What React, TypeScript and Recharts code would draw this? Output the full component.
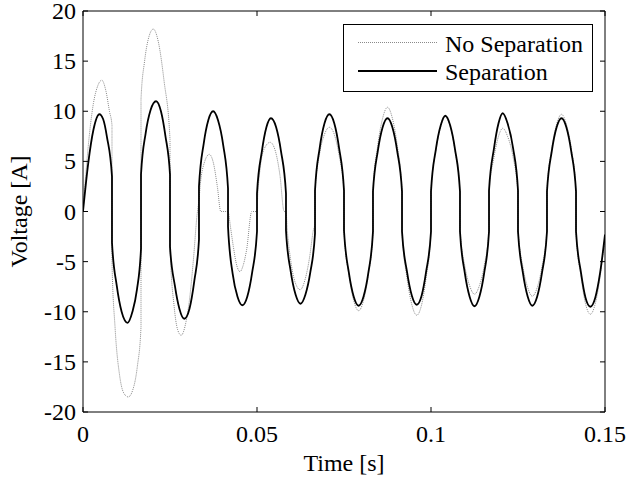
import React from 'react';
import { LineChart, Line, XAxis, YAxis, Legend, Label } from 'recharts';

const FONT = '"Liberation Serif", "Times New Roman", Times, serif';

const xTicks = [0, 0.05, 0.1, 0.15];
const yTicks = [-20, -15, -10, -5, 0, 5, 10, 15, 20];
const seriesNames = ['No Separation', 'Separation'];

// [time (s), value]
const noSeparation: [number, number][] = [
  [0, 0], [0.0015, 6.5], [0.003, 10.8], [0.0042, 12.5], [0.0054, 13.1], [0.0066, 12.0], [0.0076, 10.0], [0.00833, 8.6],
  [0.00833, -5.0], [0.0092, -11.5], [0.0105, -16.3], [0.0117, -18.1], [0.013, -18.5], [0.0143, -17.8], [0.0156, -15.5], [0.01667, -11.5],
  [0.01667, 11.2], [0.0177, 15.0], [0.019, 17.5], [0.0202, 18.2], [0.0216, 17.0], [0.0233, 13.0], [0.025, 7.2],
  [0.025, -3.5], [0.0262, -9.5], [0.0272, -11.8], [0.0282, -12.35], [0.0296, -11.0], [0.0308, -8.2], [0.0318, -4.5], [0.0327, -0.6], [0.03333, 1.2],
  [0.0338, 3.0], [0.0348, 4.8], [0.0363, 5.7], [0.0375, 4.8], [0.0386, 2.5], [0.0396, 0], [0.04167, 0],
  [0.0424, -1.6], [0.0432, -3.5], [0.0442, -5.4], [0.0451, -6.0], [0.046, -5.4], [0.047, -3.85], [0.0485, 0], [0.05, 0],
  [0.0502, 1.5], [0.0509, 4.3], [0.052, 6.2], [0.0538, 6.9], [0.0553, 6.0], [0.0566, 3.6], [0.0578, 0], [0.05833, 0],
  [0.0587, -1.8], [0.0597, -4.9], [0.0609, -7.0], [0.0624, -7.8], [0.0638, -6.8], [0.0651, -4.6], [0.0662, -1.85], [0.06667, -1.2],
  [0.06667, 2.0], [0.068, 5.8], [0.0694, 7.7], [0.0708, 8.4], [0.0722, 7.7], [0.0736, 5.6], [0.075, 2.1],
  [0.075, -2.0], [0.0764, -6.3], [0.0778, -8.9], [0.0792, -9.9], [0.0806, -8.9], [0.082, -6.3], [0.08333, -2.0],
  [0.08333, 2.1], [0.0847, 6.6], [0.0861, 9.3], [0.0875, 10.4], [0.0889, 9.3], [0.0903, 6.6], [0.09167, 2.1],
  [0.09167, -2.1], [0.0931, -6.6], [0.0945, -9.3], [0.0959, -10.35], [0.0973, -9.3], [0.0986, -6.6], [0.1, -2.1],
  [0.1, 2.0], [0.1014, 6.1], [0.1028, 8.5], [0.1041, 9.45], [0.1055, 8.5], [0.1069, 6.1], [0.10833, 2.0],
  [0.10833, -1.8], [0.1097, -5.4], [0.1111, -7.4], [0.1125, -8.25], [0.1139, -7.4], [0.1153, -5.4], [0.11667, -1.8],
  [0.11667, 1.8], [0.1181, 5.4], [0.1194, 7.5], [0.1206, 8.3], [0.122, 7.5], [0.1236, 5.4], [0.125, 1.8],
  [0.125, -1.8], [0.1264, -5.5], [0.1278, -7.6], [0.1291, -8.45], [0.1305, -7.6], [0.1319, -5.5], [0.13333, -1.8],
  [0.13333, 2.0], [0.1347, 6.3], [0.1361, 8.7], [0.1375, 9.7], [0.1389, 8.7], [0.1403, 6.3], [0.14167, 2.0],
  [0.14167, -2.1], [0.1431, -6.5], [0.1444, -9.2], [0.1458, -10.25], [0.1472, -9.2], [0.1486, -6.5], [0.15, -2.4],
];

const separation: [number, number][] = [
  [0, 0], [0.0015, 4.8], [0.003, 8.15], [0.0047, 9.7], [0.0058, 9.2], [0.0069, 7.4], [0.00833, 3.5],
  [0.00833, -3.1], [0.0097, -7.4], [0.0111, -10.0], [0.0128, -11.1], [0.0142, -10.0], [0.0155, -7.8], [0.01667, -3.7],
  [0.01667, 3.7], [0.018, 7.8], [0.0194, 10.1], [0.021, 11.0], [0.0224, 10.0], [0.0237, 7.5], [0.025, 3.7],
  [0.025, -3.5], [0.0264, -7.4], [0.0277, -9.7], [0.0291, -10.7], [0.0306, -9.7], [0.032, -6.9], [0.03333, -2.8],
  [0.03333, 2.5], [0.0347, 6.8], [0.036, 9.1], [0.0374, 10.0], [0.0388, 9.1], [0.0403, 6.6], [0.04167, 2.3],
  [0.04167, -1.5], [0.043, -6.2], [0.0444, -8.5], [0.0458, -9.35], [0.0472, -8.5], [0.0486, -6.1], [0.05, -2.0],
  [0.05, 1.8], [0.0514, 6.0], [0.0527, 8.4], [0.054, 9.3], [0.0555, 8.4], [0.0569, 6.0], [0.05833, 1.8],
  [0.05833, -1.9], [0.0597, -6.0], [0.0611, -8.3], [0.0625, -9.2], [0.0639, -8.3], [0.0653, -6.1], [0.06667, -2.2],
  [0.06667, 2.1], [0.068, 6.3], [0.0694, 8.8], [0.0708, 9.7], [0.0722, 8.8], [0.0736, 6.3], [0.075, 2.1],
  [0.075, -1.9], [0.0764, -6.1], [0.0778, -8.5], [0.0792, -9.4], [0.0806, -8.5], [0.082, -6.1], [0.08333, -2.0],
  [0.08333, 2.0], [0.0847, 6.0], [0.0861, 8.4], [0.0875, 9.3], [0.0889, 8.4], [0.0903, 6.0], [0.09167, 2.0],
  [0.09167, -2.0], [0.0931, -6.0], [0.0945, -8.4], [0.0959, -9.3], [0.0973, -8.4], [0.0986, -6.0], [0.1, -2.0],
  [0.1, 2.0], [0.1014, 6.2], [0.1028, 8.6], [0.1041, 9.55], [0.1055, 8.6], [0.1069, 6.2], [0.10833, 2.0],
  [0.10833, -2.0], [0.1097, -6.1], [0.1111, -8.5], [0.1125, -9.45], [0.1139, -8.5], [0.1153, -6.1], [0.11667, -2.0],
  [0.11667, 2.1], [0.1181, 6.3], [0.1194, 8.8], [0.1206, 9.8], [0.122, 8.8], [0.1236, 6.3], [0.125, 2.1],
  [0.125, -2.0], [0.1264, -6.1], [0.1278, -8.5], [0.1291, -9.4], [0.1305, -8.5], [0.1319, -6.1], [0.13333, -2.0],
  [0.13333, 2.0], [0.1347, 6.0], [0.1361, 8.4], [0.1375, 9.3], [0.1389, 8.4], [0.1403, 6.0], [0.14167, 2.0],
  [0.14167, -2.0], [0.1431, -6.1], [0.1444, -8.6], [0.1458, -9.5], [0.1472, -8.6], [0.1486, -6.1], [0.15, -2.3],
];

const noSepData = noSeparation.map(([t, v]) => ({ t, v }));
const sepData = separation.map(([t, v]) => ({ t, v }));

const GRAY = '#8a8a8a';

const LegendBox = () => (
  <svg width={250} height={68} style={{ display: 'block' }}>
    <rect x={0.5} y={0.5} width={249} height={67} fill="#fff" stroke="#000" strokeWidth={1} />
    <line x1={15} x2={94} y1={18.5} y2={18.5} stroke={GRAY} strokeWidth={1} strokeDasharray="1 1" />
    <text x={102} y={27.5} fontFamily={FONT} fontSize={24} fill="#000">{seriesNames[0]}</text>
    <line x1={15} x2={94} y1={47} y2={47} stroke="#000" strokeWidth={1.8} />
    <text x={102} y={56} fontFamily={FONT} fontSize={24} fill="#000">{seriesNames[1]}</text>
  </svg>
);

const YLabel = (props: any) => {
  const vb = props.viewBox || { x: 8, y: 11, width: 75, height: 401 };
  const cx = vb.x + 19;
  const cy = vb.y + vb.height / 2;
  return (
    <text x={cx} y={cy} transform={`rotate(-90 ${cx} ${cy})`} textAnchor="middle" fontFamily={FONT} fontSize={24} fill="#000">
      Voltage [A]
    </text>
  );
};

const XLabel = (props: any) => {
  const vb = props.viewBox || { x: 83, y: 412, width: 522, height: 60 };
  const cx = vb.x + vb.width / 2;
  const cy = vb.y + 59;
  return (
    <text x={cx} y={cy} textAnchor="middle" fontFamily={FONT} fontSize={24} fill="#000">
      Time [s]
    </text>
  );
};

const TickLabel = (props: any) => {
  const { x, y, payload, textAnchor, orientation } = props;
  const dy = orientation === 'bottom' ? 17 : 8;
  return (
    <text x={x} y={y} dy={dy} textAnchor={textAnchor} fontFamily={FONT} fontSize={24} fill="#000">
      {String(payload.value)}
    </text>
  );
};
const noTick = () => <g />;

export default function App() {
  return (
    <div style={{ position: 'absolute', left: 0, top: 0, width: 626, height: 480, background: '#fff', fontFamily: FONT }}>
      <LineChart width={626} height={480} margin={{ top: 10, right: 20, bottom: 8, left: 8 }} style={{ fontFamily: FONT }}>
        <XAxis
          xAxisId="b"
          dataKey="t"
          type="number"
          domain={[0, 0.15]}
          allowDataOverflow
          ticks={xTicks}
          orientation="bottom"
          height={60}
          tickSize={-5}
          tickMargin={18}
          stroke="#000"
          tick={<TickLabel orientation="bottom" />}
          interval={0}
        >
          <Label content={XLabel} />
        </XAxis>
        <XAxis
          xAxisId="t"
          dataKey="t"
          type="number"
          domain={[0, 0.15]}
          allowDataOverflow
          ticks={xTicks}
          orientation="top"
          height={1}
          tickSize={-5}
          stroke="#000"
          tick={noTick}
          interval={0}
        />
        <YAxis
          yAxisId="l"
          type="number"
          domain={[-20, 20]}
          allowDataOverflow
          ticks={yTicks}
          orientation="left"
          width={75}
          tickSize={-5}
          tickMargin={12}
          stroke="#000"
          tick={<TickLabel orientation="left" />}
          interval={0}
        >
          <Label content={YLabel} />
        </YAxis>
        <YAxis
          yAxisId="r"
          type="number"
          domain={[-20, 20]}
          allowDataOverflow
          ticks={yTicks}
          orientation="right"
          width={1}
          tickSize={-5}
          stroke="#000"
          tick={noTick}
          interval={0}
        />
        <Legend
          layout="vertical"
          align="center"
          verticalAlign="middle"
          wrapperStyle={{ position: 'absolute', left: 343, top: 24, width: 250, height: 68 }}
          content={() => <LegendBox />}
        />
        <Line
          xAxisId="b"
          yAxisId="l"
          data={noSepData}
          dataKey="v"
          name={seriesNames[0]}
          type="monotone"
          stroke={GRAY}
          strokeWidth={1}
          strokeDasharray="1 1"
          dot={false}
          activeDot={false}
          isAnimationActive={false}
        />
        <Line
          xAxisId="t"
          yAxisId="r"
          data={sepData}
          dataKey="v"
          name={seriesNames[1]}
          type="monotone"
          stroke="#000"
          strokeWidth={1.8}
          dot={false}
          activeDot={false}
          isAnimationActive={false}
        />
      </LineChart>
    </div>
  );
}
